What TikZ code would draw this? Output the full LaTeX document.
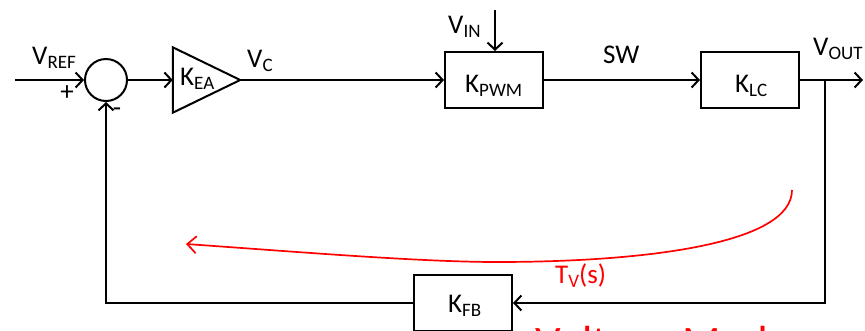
\documentclass[tikz,border=0pt]{standalone}
\usepackage{fontspec}
\setmainfont{Carlito}
\usetikzlibrary{arrows.meta}
\definecolor{tvred}{RGB}{255,0,0}
\newcommand\lo[1]{\raisebox{-4pt}{\fontsize{19}{19}\selectfont #1}}
\tikzset{
  blk/.style={draw, line width=2pt, minimum width=98pt, minimum height=56pt, inner sep=0pt},
  sumnode/.style={draw, circle, line width=2pt, minimum size=42pt, inner sep=0pt},
  lbl/.style={inner sep=0pt, anchor=base west, font=\fontsize{27}{32}\selectfont},
  sig/.style={line width=2pt, -{Straight Barb[length=7pt,width=15pt]}},
  wire/.style={line width=2pt},
  loopline/.style={tvred, line width=1.7pt, -{Straight Barb[length=9pt,width=17pt]}},
}
\begin{document}
\begin{tikzpicture}[x=1pt,y=-1pt]
\useasboundingbox (0,0) rectangle (865,330);
\clip (0,0) rectangle (865,330);

% blocks
\node[sumnode] (sum) at (106,80) {};
\node[inner sep=0pt, minimum width=67pt, minimum height=65pt] (ea) at (206.5,80) {};
\draw[wire, line join=miter] (ea.north west) -- (ea.east) -- (ea.south west) -- cycle;
\node[blk] (pwm) at (494,80) {};
\node[blk] (lc) at (750,80) {};
\node[blk] (fb) at (463,303) {};

% free ends
\coordinate (in) at (15,80);
\coordinate (vin) at (495,10);
\coordinate (out) at (863,80);
\coordinate (br) at (825,80);
\coordinate (brb) at (825,303);
\coordinate (sl) at (106,303);
\coordinate (tvs) at (792,190);
\coordinate (tvm) at (497,262);
\coordinate (tve) at (186,244);

% connectors
\draw[sig] (in) -- (sum.west);
\draw[sig] (sum.east) -- (ea.west);
\draw[sig] (ea.east) -- (pwm.west);
\draw[sig] (vin) -- (vin |- pwm.north);
\draw[sig] (pwm.east) -- (lc.west);
\draw[sig] (lc.east) -- (out);
\draw[sig, line join=miter] (br) -- (brb) -- (fb.east);
\draw[sig, line join=miter] (fb.west) -- (sl) -- (sum.south);

% loop-gain arrow
\draw[loopline] (tvs) .. controls (792,245) and (640,262) .. (tvm)
  .. controls (420,262) and (300,252) .. (tve);

% labels
\node[lbl] (tref) at (32,64) {V\lo{REF}};
\node[inner sep=0pt, font=\fontsize{27}{32}\selectfont] (tplus) at (67,93) {+};
\node[inner sep=0pt, font=\fontsize{27}{32}\selectfont] (tminus) at (117,112) {-};
\node[lbl] (tea) at (180,85) {K\lo{EA}};
\node[lbl] (tvc) at (247,67) {V\lo{C}};
\node[lbl] (tvin) at (448,33) {V\lo{IN}};
\node[lbl] (tsw) at (603,63) {SW};
\node[lbl] (tpwm) at (465,92) {K\lo{PWM}};
\node[lbl] (tlc) at (735,92) {K\lo{LC}};
\node[lbl] (tvout) at (813,55) {V\lo{OUT}};
\node[lbl] (tfb) at (448,312) {K\lo{FB}};
\node[lbl, text=tvred] (ttv) at (555,283) {T\lo{V}(s)};
\node[inner sep=0pt, anchor=base west, font=\fontsize{45}{50}\selectfont, text=tvred] (tmode) at (535,357) {Voltage Mode};
\end{tikzpicture}
\end{document}
